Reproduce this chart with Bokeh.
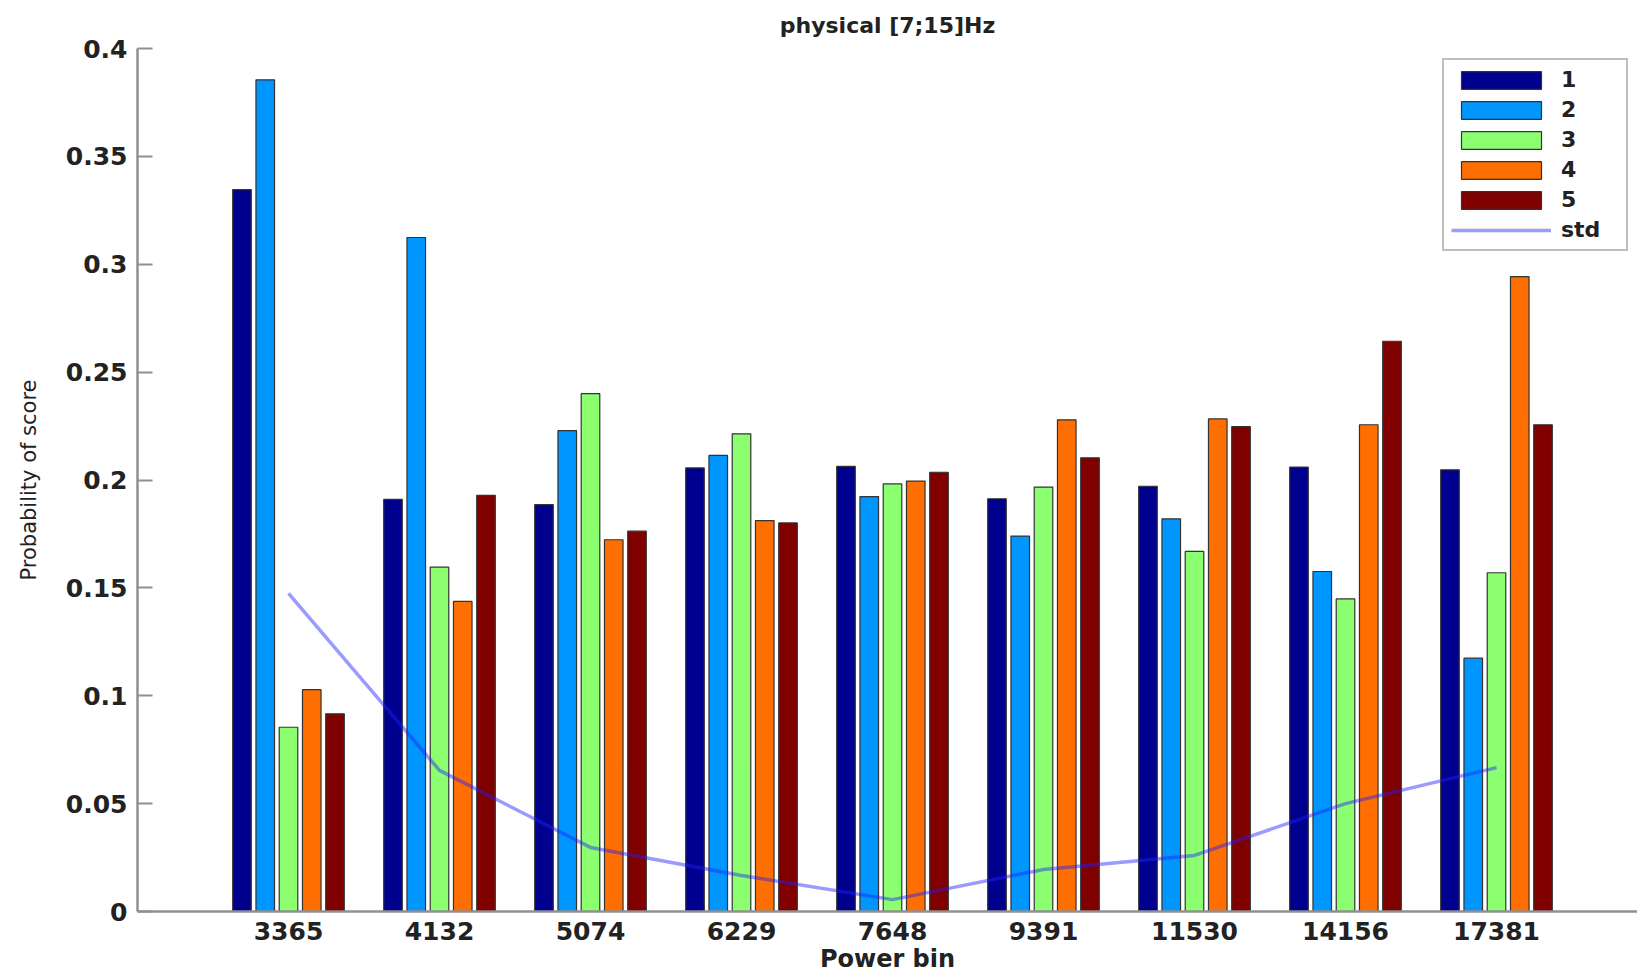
from bokeh.plotting import figure
from bokeh.models import Range1d, FixedTicker, Legend, LegendItem, ColumnDataSource
from bokeh.transform import dodge
from bokeh.embed import file_html
from bokeh.resources import INLINE

# ---- data ----
power_bins = ["3365", "4132", "5074", "6229", "7648", "9391", "11530", "14156", "17381"]
score_labels = ["1", "2", "3", "4", "5"]
score1 = [0.3346, 0.1910, 0.1886, 0.2056, 0.2063, 0.1913, 0.1971, 0.2060, 0.2047]
score2 = [0.3855, 0.3124, 0.2229, 0.2114, 0.1923, 0.1740, 0.1820, 0.1576, 0.1174]
score3 = [0.0854, 0.1596, 0.2400, 0.2214, 0.1982, 0.1967, 0.1669, 0.1449, 0.1570]
score4 = [0.1028, 0.1437, 0.1723, 0.1812, 0.1995, 0.2279, 0.2283, 0.2256, 0.2943]
score5 = [0.0916, 0.1929, 0.1763, 0.1801, 0.2036, 0.2103, 0.2248, 0.2643, 0.2256]
std_vals = [0.1474, 0.0654, 0.0297, 0.0167, 0.0055, 0.0195, 0.0260, 0.0500, 0.0667]
y_ticks = [0, 0.05, 0.1, 0.15, 0.2, 0.25, 0.3, 0.35, 0.4]
y_tick_labels = ["0", "0.05", "0.1", "0.15", "0.2", "0.25", "0.3", "0.35", "0.4"]

colors = ["#00008F", "#0096FF", "#8CFF70", "#FF6E00", "#800000"]

pos = list(range(1, len(power_bins) + 1))
src = ColumnDataSource(dict(x=pos, s1=score1, s2=score2, s3=score3, s4=score4, s5=score5, std=std_vals))

FONT = "DejaVu Sans"

p = figure(width=1637, height=977, output_backend="svg", toolbar_location=None,
           x_range=Range1d(0, 1500 / 151), y_range=Range1d(0, 0.4),
           title="physical [7;15]Hz")
p.min_border_left = 137
p.min_border_right = 0
p.min_border_top = 48
p.min_border_bottom = 66
p.outline_line_color = None
p.xgrid.grid_line_color = None
p.ygrid.grid_line_color = None
p.background_fill_color = "white"
p.border_fill_color = "white"

p.title.text_font = FONT
p.title.text_font_size = "22px"
p.title.text_font_style = "bold"
p.title.align = "center"
p.title.text_color = "#222222"
p.title.standoff = 21

pitch = 0.154
bw = 0.123
renderers = []
for i, (lab, col) in enumerate(zip(score_labels, colors)):
    r = p.vbar(x=dodge("x", (i - 2) * pitch, range=p.x_range), top="s%d" % (i + 1), width=bw,
               source=src, fill_color=col, line_color="#333333", line_width=1.2)
    renderers.append(r)

ln = p.line(x="x", y="std", source=src, line_color="#2020FF", line_alpha=0.45, line_width=3.5)

for ax in (p.xaxis[0], p.yaxis[0]):
    ax.axis_line_color = "#909090"
    ax.axis_line_width = 2.5
    ax.major_tick_line_color = "#909090"
    ax.major_tick_line_width = 2
    ax.minor_tick_line_color = None
    ax.major_label_text_font = FONT
    ax.major_label_text_font_style = "bold"
    ax.major_label_text_font_size = "25px"
    ax.major_label_text_color = "#222222"

p.xaxis.ticker = FixedTicker(ticks=pos)
p.xaxis.major_label_overrides = {k: v for k, v in zip(pos, power_bins)}
p.xaxis.major_tick_in = 0
p.xaxis.major_tick_out = 0
p.xaxis.major_label_standoff = 10
p.xaxis.axis_label = "Power bin"
p.xaxis.axis_label_text_font = FONT
p.xaxis.axis_label_text_font_style = "bold"
p.xaxis.axis_label_text_font_size = "24px"
p.xaxis.axis_label_text_color = "#222222"
p.xaxis.axis_label_standoff = 2

p.yaxis.ticker = FixedTicker(ticks=y_ticks)
p.yaxis.major_label_overrides = {k: v for k, v in zip(y_ticks, y_tick_labels)}
p.yaxis.major_tick_in = 15
p.yaxis.major_tick_out = 0
p.yaxis.major_label_standoff = 10
p.yaxis.axis_label = "Probability of score"
p.yaxis.axis_label_text_font = FONT
p.yaxis.axis_label_text_font_style = "normal"
p.yaxis.axis_label_text_font_size = "21px"
p.yaxis.axis_label_text_color = "#222222"
p.yaxis.axis_label_standoff = 22

items = [LegendItem(label=lab, renderers=[r]) for lab, r in zip(score_labels, renderers)]
items.append(LegendItem(label="std", renderers=[ln]))
legend = Legend(items=items, location=(1305, 660))
legend.margin = 0
legend.padding = 7
legend.spacing = 5
legend.glyph_width = 100
legend.glyph_height = 22
legend.label_height = 22
legend.label_width = 58
legend.label_standoff = 10
legend.label_text_font = FONT
legend.label_text_font_style = "bold"
legend.label_text_font_size = "22px"
legend.label_text_color = "#222222"
legend.border_line_color = "#808080"
legend.border_line_width = 2
legend.background_fill_color = "white"
legend.background_fill_alpha = 1
p.add_layout(legend, "center")

open("out.html", "w").write(file_html(p, INLINE))
